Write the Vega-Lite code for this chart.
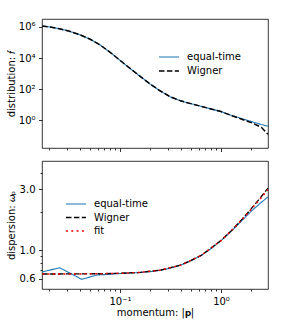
{
  "$schema": "https://vega.github.io/schema/vega-lite/v6.json",
  "padding": {"left": 5, "top": 18, "right": 5, "bottom": 5},
  "spacing": 13,
  "bounds": "flush",
  "config": {
    "font": "DejaVu Sans",
    "view": {"stroke": "#000", "strokeWidth": 0.8},
    "axis": {"domain": false, "grid": false, "tickColor": "#000", "tickWidth": 0.8, "tickSize": 3.5, "labelFont": "DejaVu Sans", "labelFontSize": 10, "labelColor": "#000", "labelPadding": 3.5, "titleFont": "DejaVu Sans", "titleFontSize": 10, "titleFontWeight": "normal", "titleColor": "#000"},
    "legend": {"labelFont": "DejaVu Sans", "labelFontSize": 10, "labelColor": "#000", "padding": 0}
  },
  "datasets": {
    "dist": [
      {"p": 0.01698, "f": 1122018, "series": "equal-time"},
      {"p": 0.01995, "f": 1000000, "series": "equal-time"},
      {"p": 0.02512, "f": 758578, "series": "equal-time"},
      {"p": 0.03162, "f": 524807, "series": "equal-time"},
      {"p": 0.03981, "f": 316228, "series": "equal-time"},
      {"p": 0.05012, "f": 165959, "series": "equal-time"},
      {"p": 0.0631, "f": 70795, "series": "equal-time"},
      {"p": 0.07943, "f": 23988, "series": "equal-time"},
      {"p": 0.1, "f": 7079, "series": "equal-time"},
      {"p": 0.1259, "f": 2138, "series": "equal-time"},
      {"p": 0.1585, "f": 660.7, "series": "equal-time"},
      {"p": 0.1995, "f": 208.9, "series": "equal-time"},
      {"p": 0.2512, "f": 75.86, "series": "equal-time"},
      {"p": 0.3162, "f": 31.62, "series": "equal-time"},
      {"p": 0.3981, "f": 17.78, "series": "equal-time"},
      {"p": 0.5012, "f": 11.75, "series": "equal-time"},
      {"p": 0.631, "f": 7.943, "series": "equal-time"},
      {"p": 0.7943, "f": 5.37, "series": "equal-time"},
      {"p": 1.0, "f": 3.631, "series": "equal-time"},
      {"p": 1.259, "f": 2.089, "series": "equal-time"},
      {"p": 1.585, "f": 1.318, "series": "equal-time"},
      {"p": 1.995, "f": 0.8318, "series": "equal-time"},
      {"p": 2.512, "f": 0.537, "series": "equal-time"},
      {"p": 2.917, "f": 0.4169, "series": "equal-time"},
      {"p": 0.01698, "f": 1122018, "series": "Wigner"},
      {"p": 0.01995, "f": 1000000, "series": "Wigner"},
      {"p": 0.02512, "f": 758578, "series": "Wigner"},
      {"p": 0.03162, "f": 524807, "series": "Wigner"},
      {"p": 0.03981, "f": 316228, "series": "Wigner"},
      {"p": 0.05012, "f": 165959, "series": "Wigner"},
      {"p": 0.0631, "f": 70795, "series": "Wigner"},
      {"p": 0.07943, "f": 23988, "series": "Wigner"},
      {"p": 0.1, "f": 7079, "series": "Wigner"},
      {"p": 0.1259, "f": 2138, "series": "Wigner"},
      {"p": 0.1585, "f": 660.7, "series": "Wigner"},
      {"p": 0.1995, "f": 208.9, "series": "Wigner"},
      {"p": 0.2512, "f": 75.86, "series": "Wigner"},
      {"p": 0.3162, "f": 31.62, "series": "Wigner"},
      {"p": 0.3981, "f": 17.78, "series": "Wigner"},
      {"p": 0.5012, "f": 11.75, "series": "Wigner"},
      {"p": 0.631, "f": 7.943, "series": "Wigner"},
      {"p": 0.7943, "f": 5.37, "series": "Wigner"},
      {"p": 1.0, "f": 3.631, "series": "Wigner"},
      {"p": 1.259, "f": 2.05, "series": "Wigner"},
      {"p": 1.585, "f": 1.202, "series": "Wigner"},
      {"p": 1.995, "f": 0.7079, "series": "Wigner"},
      {"p": 2.512, "f": 0.3548, "series": "Wigner"},
      {"p": 2.917, "f": 0.1259, "series": "Wigner"}
    ],
    "disp": [
      {"p": 0.01698, "w": 0.679, "series": "equal-time"},
      {"p": 0.0253, "w": 0.733, "series": "equal-time"},
      {"p": 0.0418, "w": 0.595, "series": "equal-time"},
      {"p": 0.059, "w": 0.643, "series": "equal-time"},
      {"p": 0.07943, "w": 0.652, "series": "equal-time"},
      {"p": 0.1, "w": 0.66, "series": "equal-time"},
      {"p": 0.1259, "w": 0.666, "series": "equal-time"},
      {"p": 0.1585, "w": 0.673, "series": "equal-time"},
      {"p": 0.1995, "w": 0.684, "series": "equal-time"},
      {"p": 0.2512, "w": 0.701, "series": "equal-time"},
      {"p": 0.3162, "w": 0.727, "series": "equal-time"},
      {"p": 0.3981, "w": 0.768, "series": "equal-time"},
      {"p": 0.5012, "w": 0.827, "series": "equal-time"},
      {"p": 0.631, "w": 0.911, "series": "equal-time"},
      {"p": 0.7943, "w": 1.03, "series": "equal-time"},
      {"p": 1.0, "w": 1.192, "series": "equal-time"},
      {"p": 1.259, "w": 1.41, "series": "equal-time"},
      {"p": 1.585, "w": 1.69, "series": "equal-time"},
      {"p": 1.995, "w": 2.03, "series": "equal-time"},
      {"p": 2.512, "w": 2.38, "series": "equal-time"},
      {"p": 2.917, "w": 2.62, "series": "equal-time"},
      {"p": 0.01698, "w": 0.655, "series": "Wigner"},
      {"p": 0.02512, "w": 0.655, "series": "Wigner"},
      {"p": 0.03981, "w": 0.656, "series": "Wigner"},
      {"p": 0.0631, "w": 0.658, "series": "Wigner"},
      {"p": 0.1, "w": 0.663, "series": "Wigner"},
      {"p": 0.1585, "w": 0.674, "series": "Wigner"},
      {"p": 0.2512, "w": 0.702, "series": "Wigner"},
      {"p": 0.3981, "w": 0.767, "series": "Wigner"},
      {"p": 0.631, "w": 0.91, "series": "Wigner"},
      {"p": 1.0, "w": 1.196, "series": "Wigner"},
      {"p": 1.259, "w": 1.422, "series": "Wigner"},
      {"p": 1.585, "w": 1.725, "series": "Wigner"},
      {"p": 1.995, "w": 2.12, "series": "Wigner"},
      {"p": 2.512, "w": 2.64, "series": "Wigner"},
      {"p": 2.917, "w": 3.07, "series": "Wigner"},
      {"p": 0.01698, "w": 0.655, "series": "fit"},
      {"p": 0.02512, "w": 0.655, "series": "fit"},
      {"p": 0.03981, "w": 0.656, "series": "fit"},
      {"p": 0.0631, "w": 0.658, "series": "fit"},
      {"p": 0.1, "w": 0.663, "series": "fit"},
      {"p": 0.1585, "w": 0.674, "series": "fit"},
      {"p": 0.2512, "w": 0.702, "series": "fit"},
      {"p": 0.3981, "w": 0.767, "series": "fit"},
      {"p": 0.631, "w": 0.91, "series": "fit"},
      {"p": 1.0, "w": 1.195, "series": "fit"},
      {"p": 1.259, "w": 1.419, "series": "fit"},
      {"p": 1.585, "w": 1.715, "series": "fit"},
      {"p": 1.995, "w": 2.1, "series": "fit"},
      {"p": 2.512, "w": 2.596, "series": "fit"},
      {"p": 2.917, "w": 2.99, "series": "fit"}
    ]
  },
  "vconcat": [
    {
      "width": 226,
      "height": 129,
      "data": {"name": "dist"},
      "layer": [
        {
          "mark": {"type": "line", "clip": true},
          "encoding": {
            "x": {"field": "p", "type": "quantitative", "scale": {"type": "log", "domain": [0.0169, 2.92], "nice": false}, "axis": {"orient": "bottom", "values": [0.1, 1], "labels": false, "title": null}},
            "y": {"field": "f", "type": "quantitative", "scale": {"type": "log", "domain": [0.0166, 3200000], "nice": false}, "axis": {"orient": "left", "values": [1, 100, 10000, 1000000], "labelExpr": "datum.value >= 999999 ? '10⁶' : datum.value >= 9999 ? '10⁴' : datum.value >= 99 ? '10²' : '10⁰'", "title": "distribution: 𝑓", "titleX": -26}},
            "color": {"field": "series", "type": "nominal", "sort": null, "scale": {"domain": ["equal-time", "Wigner"], "range": ["#1f77b4", "#000000"]}, "legend": {"orient": "none", "legendX": 121, "legendY": 32, "title": null, "symbolType": "M-2,0H2", "symbolSize": 100, "rowPadding": 3, "labelOffset": 12}},
            "strokeDash": {"field": "series", "type": "nominal", "sort": null, "scale": {"domain": ["equal-time", "Wigner"], "range": [[1, 0], [5.5, 2.4]]}, "legend": {"orient": "none", "legendX": 121, "legendY": 32, "title": null, "symbolType": "M-2,0H2", "symbolSize": 100, "rowPadding": 3, "labelOffset": 12}},
            "strokeWidth": {"field": "series", "type": "nominal", "sort": null, "scale": {"domain": ["equal-time", "Wigner"], "range": [1.1, 1.5]}, "legend": {"orient": "none", "legendX": 121, "legendY": 32, "title": null, "symbolType": "M-2,0H2", "symbolSize": 100, "rowPadding": 3, "labelOffset": 12}}
          }
        },
        {
          "mark": {"type": "line", "opacity": 0, "clip": true},
          "encoding": {
            "x": {"field": "p", "type": "quantitative", "axis": {"orient": "bottom", "values": [0.02, 0.03, 0.04, 0.05, 0.06, 0.07, 0.08, 0.09, 0.2, 0.3, 0.4, 0.5, 0.6, 0.7, 0.8, 0.9, 2], "labels": false, "tickSize": 2, "title": null}},
            "y": {"field": "f", "type": "quantitative", "axis": {"orient": "left", "values": [1, 100, 10000, 1000000], "labelExpr": "datum.value >= 999999 ? '10⁶' : datum.value >= 9999 ? '10⁴' : datum.value >= 99 ? '10²' : '10⁰'", "title": "distribution: 𝑓", "titleX": -26}}
          }
        }
      ],
      "resolve": {"axis": {"x": "independent"}}
    },
    {
      "width": 226,
      "height": 128,
      "data": {"name": "disp"},
      "layer": [
        {
          "mark": {"type": "line", "clip": true},
          "encoding": {
            "x": {"field": "p", "type": "quantitative", "scale": {"type": "log", "domain": [0.0169, 2.92], "nice": false}, "axis": {"orient": "bottom", "values": [0.1, 1], "labelExpr": "datum.value < 0.5 ? '10⁻¹' : '10⁰'", "title": "momentum: |𝐩|", "titlePadding": 1}},
            "y": {"field": "w", "type": "quantitative", "scale": {"type": "log", "domain": [0.5, 5], "nice": false}, "axis": {"orient": "left", "values": [0.6, 1, 3], "format": ".1f", "title": "dispersion: 𝜔ₚ", "titleX": -26}},
            "color": {"field": "series", "type": "nominal", "sort": null, "scale": {"domain": ["equal-time", "Wigner", "fit"], "range": ["#1f77b4", "#000000", "#ff0000"]}, "legend": {"orient": "none", "legendX": 28, "legendY": 37, "title": null, "symbolType": "M-2,0H2", "symbolSize": 100, "rowPadding": 2.5, "labelOffset": 12}},
            "strokeDash": {"field": "series", "type": "nominal", "sort": null, "scale": {"domain": ["equal-time", "Wigner", "fit"], "range": [[1, 0], [5.5, 2.4], [2, 3.3]]}, "legend": {"orient": "none", "legendX": 28, "legendY": 37, "title": null, "symbolType": "M-2,0H2", "symbolSize": 100, "rowPadding": 2.5, "labelOffset": 12}},
            "strokeWidth": {"field": "series", "type": "nominal", "sort": null, "scale": {"domain": ["equal-time", "Wigner", "fit"], "range": [1.1, 1.5, 2]}, "legend": {"orient": "none", "legendX": 28, "legendY": 37, "title": null, "symbolType": "M-2,0H2", "symbolSize": 100, "rowPadding": 2.5, "labelOffset": 12}}
          }
        },
        {
          "mark": {"type": "line", "opacity": 0, "clip": true},
          "encoding": {
            "x": {"field": "p", "type": "quantitative", "axis": {"orient": "bottom", "values": [0.02, 0.03, 0.04, 0.05, 0.06, 0.07, 0.08, 0.09, 0.2, 0.3, 0.4, 0.5, 0.6, 0.7, 0.8, 0.9, 2], "labels": false, "tickSize": 2, "title": null}},
            "y": {"field": "w", "type": "quantitative", "axis": {"orient": "left", "values": [0.7, 0.8, 0.9, 2, 4], "labels": false, "tickSize": 2, "title": null}}
          }
        }
      ],
      "resolve": {"axis": {"x": "independent", "y": "independent"}}
    }
  ],
  "resolve": {"scale": {"color": "independent", "strokeDash": "independent", "strokeWidth": "independent"}}
}
